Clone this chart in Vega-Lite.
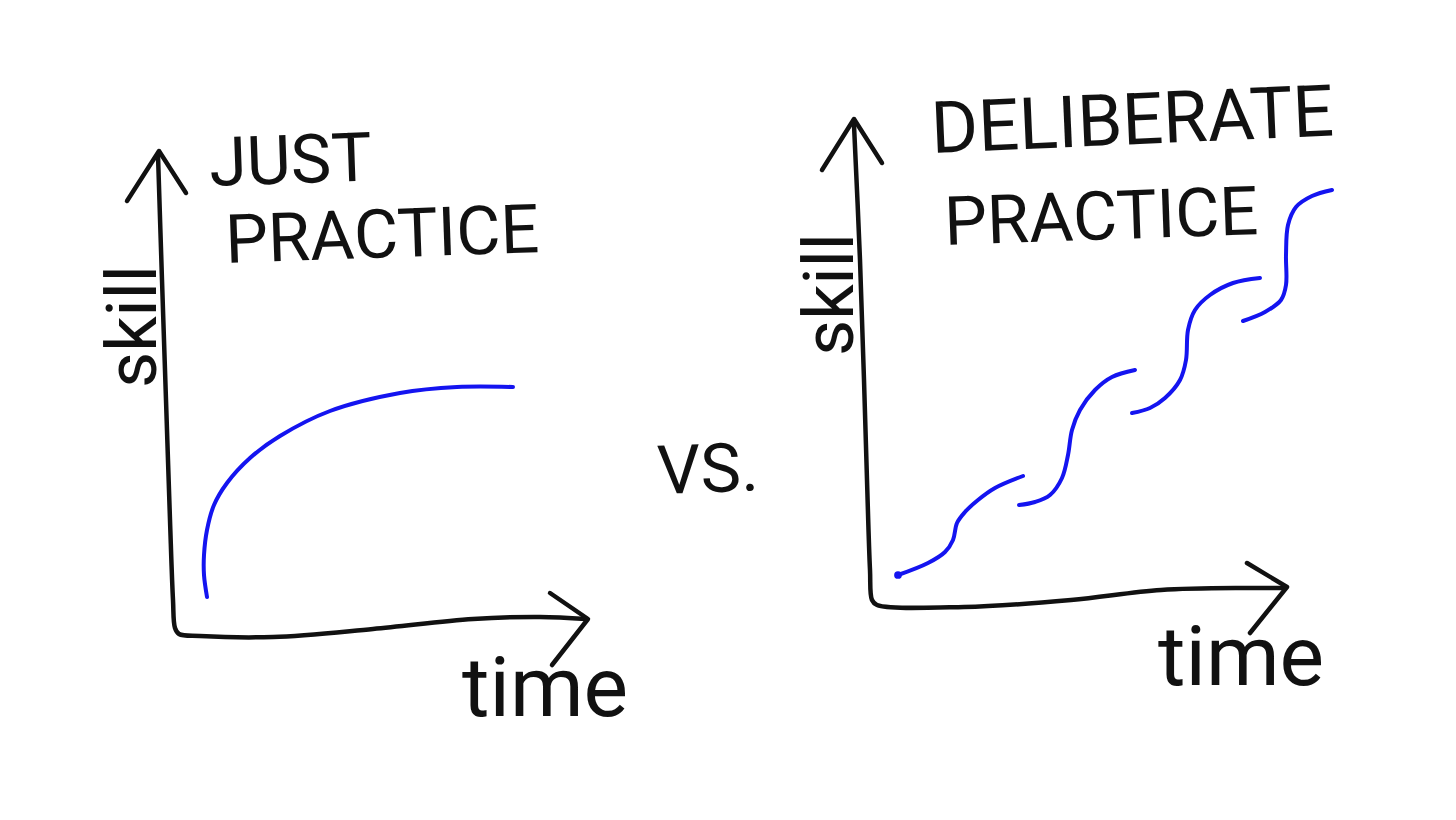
{
  "$schema": "https://vega.github.io/schema/vega-lite/v6.json",
  "width": 1456,
  "height": 820,
  "autosize": {"type": "fit", "contains": "padding"},
  "padding": 0,
  "background": "white",
  "config": {"view": {"stroke": null}},
  "datasets": {
    "ink": [
      {"path": "L-axes", "i": 0, "x": 158, "y": 155},
      {"path": "L-axes", "i": 1, "x": 162, "y": 280},
      {"path": "L-axes", "i": 2, "x": 166, "y": 400},
      {"path": "L-axes", "i": 3, "x": 170, "y": 520},
      {"path": "L-axes", "i": 4, "x": 173, "y": 600},
      {"path": "L-axes", "i": 5, "x": 175, "y": 628},
      {"path": "L-axes", "i": 6, "x": 179, "y": 634},
      {"path": "L-axes", "i": 7, "x": 200, "y": 636},
      {"path": "L-axes", "i": 8, "x": 273, "y": 637},
      {"path": "L-axes", "i": 9, "x": 373, "y": 629},
      {"path": "L-axes", "i": 10, "x": 473, "y": 619},
      {"path": "L-axes", "i": 11, "x": 540, "y": 617},
      {"path": "L-axes", "i": 12, "x": 586, "y": 619},
      {"path": "R-axes", "i": 0, "x": 854, "y": 125},
      {"path": "R-axes", "i": 1, "x": 860, "y": 260},
      {"path": "R-axes", "i": 2, "x": 864, "y": 380},
      {"path": "R-axes", "i": 3, "x": 867, "y": 480},
      {"path": "R-axes", "i": 4, "x": 870, "y": 570},
      {"path": "R-axes", "i": 5, "x": 872, "y": 600},
      {"path": "R-axes", "i": 6, "x": 877, "y": 605},
      {"path": "R-axes", "i": 7, "x": 964, "y": 607},
      {"path": "R-axes", "i": 8, "x": 1071, "y": 600},
      {"path": "R-axes", "i": 9, "x": 1161, "y": 590},
      {"path": "R-axes", "i": 10, "x": 1251, "y": 588},
      {"path": "R-axes", "i": 11, "x": 1285, "y": 588}
    ],
    "arrows": [
      {"path": "L-yarrow", "i": 0, "x": 127, "y": 201},
      {"path": "L-yarrow", "i": 1, "x": 159, "y": 151},
      {"path": "L-yarrow", "i": 2, "x": 186, "y": 193},
      {"path": "L-xarrow", "i": 0, "x": 550, "y": 593},
      {"path": "L-xarrow", "i": 1, "x": 588, "y": 619},
      {"path": "L-xarrow", "i": 2, "x": 552, "y": 665},
      {"path": "R-yarrow", "i": 0, "x": 822, "y": 170},
      {"path": "R-yarrow", "i": 1, "x": 854, "y": 119},
      {"path": "R-yarrow", "i": 2, "x": 882, "y": 163},
      {"path": "R-xarrow", "i": 0, "x": 1247, "y": 563},
      {"path": "R-xarrow", "i": 1, "x": 1287, "y": 587},
      {"path": "R-xarrow", "i": 2, "x": 1250, "y": 633}
    ],
    "skill": [
      {"path": "just", "i": 0, "x": 207, "y": 597},
      {"path": "just", "i": 1, "x": 204, "y": 575},
      {"path": "just", "i": 2, "x": 204, "y": 555},
      {"path": "just", "i": 3, "x": 207, "y": 530},
      {"path": "just", "i": 4, "x": 214, "y": 505},
      {"path": "just", "i": 5, "x": 227, "y": 483},
      {"path": "just", "i": 6, "x": 250, "y": 458},
      {"path": "just", "i": 7, "x": 280, "y": 436},
      {"path": "just", "i": 8, "x": 330, "y": 411},
      {"path": "just", "i": 9, "x": 400, "y": 393},
      {"path": "just", "i": 10, "x": 457, "y": 387},
      {"path": "just", "i": 11, "x": 513, "y": 387},
      {"path": "d1", "i": 0, "x": 898, "y": 575},
      {"path": "d1", "i": 1, "x": 928, "y": 563},
      {"path": "d1", "i": 2, "x": 945, "y": 552},
      {"path": "d1", "i": 3, "x": 953, "y": 540},
      {"path": "d1", "i": 4, "x": 957, "y": 523},
      {"path": "d1", "i": 5, "x": 965, "y": 512},
      {"path": "d1", "i": 6, "x": 978, "y": 500},
      {"path": "d1", "i": 7, "x": 995, "y": 488},
      {"path": "d1", "i": 8, "x": 1023, "y": 476},
      {"path": "d2", "i": 0, "x": 1019, "y": 505},
      {"path": "d2", "i": 1, "x": 1035, "y": 502},
      {"path": "d2", "i": 2, "x": 1050, "y": 495},
      {"path": "d2", "i": 3, "x": 1062, "y": 478},
      {"path": "d2", "i": 4, "x": 1068, "y": 455},
      {"path": "d2", "i": 5, "x": 1072, "y": 430},
      {"path": "d2", "i": 6, "x": 1080, "y": 410},
      {"path": "d2", "i": 7, "x": 1095, "y": 390},
      {"path": "d2", "i": 8, "x": 1112, "y": 377},
      {"path": "d2", "i": 9, "x": 1135, "y": 370},
      {"path": "d3", "i": 0, "x": 1132, "y": 413},
      {"path": "d3", "i": 1, "x": 1150, "y": 408},
      {"path": "d3", "i": 2, "x": 1165, "y": 398},
      {"path": "d3", "i": 3, "x": 1180, "y": 380},
      {"path": "d3", "i": 4, "x": 1186, "y": 360},
      {"path": "d3", "i": 5, "x": 1188, "y": 330},
      {"path": "d3", "i": 6, "x": 1195, "y": 310},
      {"path": "d3", "i": 7, "x": 1210, "y": 295},
      {"path": "d3", "i": 8, "x": 1233, "y": 283},
      {"path": "d3", "i": 9, "x": 1260, "y": 278},
      {"path": "d4", "i": 0, "x": 1243, "y": 321},
      {"path": "d4", "i": 1, "x": 1265, "y": 312},
      {"path": "d4", "i": 2, "x": 1281, "y": 300},
      {"path": "d4", "i": 3, "x": 1286, "y": 285},
      {"path": "d4", "i": 4, "x": 1286, "y": 255},
      {"path": "d4", "i": 5, "x": 1288, "y": 225},
      {"path": "d4", "i": 6, "x": 1296, "y": 207},
      {"path": "d4", "i": 7, "x": 1312, "y": 196},
      {"path": "d4", "i": 8, "x": 1332, "y": 190}
    ],
    "titles": [
      {"label": "JUST", "x": 210, "y": 186},
      {"label": "PRACTICE", "x": 226, "y": 263},
      {"label": "PRACTICE", "x": 945, "y": 245},
      {"label": "VS.", "x": 658, "y": 494}
    ],
    "deliberate": [
      {"label": "DELIBERATE", "x": 932, "y": 153}
    ],
    "time": [
      {"label": "time", "x": 462, "y": 716},
      {"label": "time", "x": 1158, "y": 685}
    ],
    "ylabels": [
      {"label": "skill", "x": 156, "y": 388},
      {"label": "skill", "x": 853, "y": 356}
    ]
  },
  "encoding": {
    "x": {"field": "x", "type": "quantitative", "scale": {"domain": [0, 1456], "nice": false, "zero": false}, "axis": null},
    "y": {"field": "y", "type": "quantitative", "scale": {"domain": [0, 820], "nice": false, "zero": false, "reverse": true}, "axis": null}
  },
  "layer": [
    {
      "data": {"name": "ink"},
      "mark": {"type": "line", "color": "#111111", "strokeWidth": 4.5, "interpolate": "catmull-rom", "strokeCap": "round", "strokeJoin": "round"},
      "encoding": {"detail": {"field": "path"}, "order": {"field": "i", "type": "quantitative"}}
    },
    {
      "data": {"name": "arrows"},
      "mark": {"type": "line", "color": "#111111", "strokeWidth": 4.5, "interpolate": "linear", "strokeCap": "round", "strokeJoin": "round"},
      "encoding": {"detail": {"field": "path"}, "order": {"field": "i", "type": "quantitative"}}
    },
    {
      "data": {"name": "skill"},
      "mark": {"type": "line", "color": "#1414f0", "strokeWidth": 4, "interpolate": "catmull-rom", "strokeCap": "round", "strokeJoin": "round"},
      "encoding": {"detail": {"field": "path"}, "order": {"field": "i", "type": "quantitative"}}
    },
    {
      "data": {"name": "skill"},
      "transform": [{"filter": "datum.path === 'd1' && datum.i === 0"}],
      "mark": {"type": "circle", "color": "#1414f0", "opacity": 1, "size": 60},
      "encoding": {}
    },
    {
      "data": {"name": "titles"},
      "mark": {"type": "text", "font": "Roboto", "fontSize": 68, "color": "#111111", "align": "left", "baseline": "alphabetic", "angle": 358},
      "encoding": {"text": {"field": "label"}}
    },
    {
      "data": {"name": "deliberate"},
      "mark": {"type": "text", "font": "Roboto", "fontSize": 72, "color": "#111111", "align": "left", "baseline": "alphabetic", "angle": 357.5},
      "encoding": {"text": {"field": "label"}}
    },
    {
      "data": {"name": "time"},
      "mark": {"type": "text", "font": "Roboto", "fontSize": 84, "color": "#111111", "align": "left", "baseline": "alphabetic"},
      "encoding": {"text": {"field": "label"}}
    },
    {
      "data": {"name": "ylabels"},
      "mark": {"type": "text", "font": "Roboto", "fontSize": 70, "color": "#111111", "align": "left", "baseline": "alphabetic", "angle": 270},
      "encoding": {"text": {"field": "label"}}
    }
  ]
}
